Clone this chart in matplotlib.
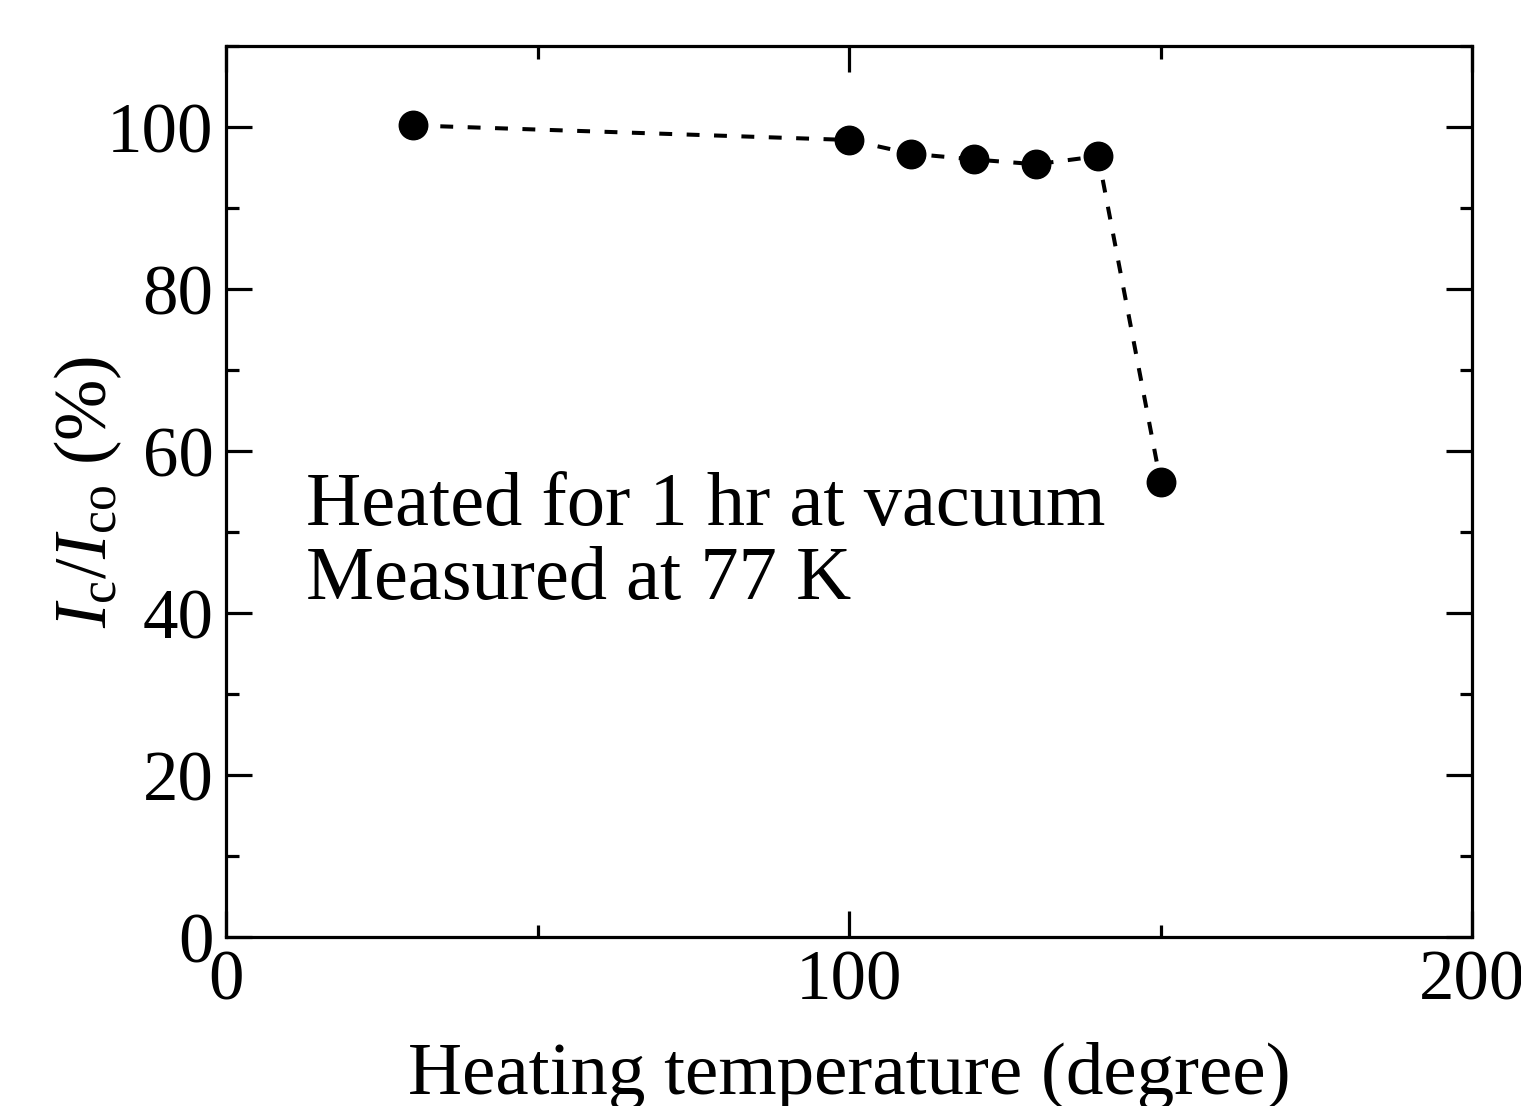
import matplotlib
matplotlib.use("Agg")
import matplotlib.pyplot as plt
from matplotlib.ticker import MultipleLocator

# Heating temperature (degree) and normalised critical current Ic/Ico (%)
temperature = [30, 100, 110, 120, 130, 140, 150]
ic_ratio = [100.2, 98.4, 96.7, 96.0, 95.4, 96.4, 56.2]

x_ticks = [0, 100, 200]
y_ticks = [0, 20, 40, 60, 80, 100]

plt.rcParams["font.family"] = ["Liberation Serif", "DejaVu Serif"]
plt.rcParams["mathtext.fontset"] = "custom"
plt.rcParams["mathtext.rm"] = "Liberation Serif"
plt.rcParams["mathtext.it"] = "Liberation Serif:italic"

fig = plt.figure(figsize=(15.21, 11.06), dpi=100)
ax = fig.add_axes([0.1486, 0.1528, 0.8192, 0.8056])

ax.plot(temperature, ic_ratio, color="black", linewidth=2.9,
        linestyle=(0, (3.2, 3.6)), marker="o", markersize=20.5,
        markerfacecolor="black", markeredgecolor="black")

ax.set_xlim(0, 200)
ax.set_ylim(0, 110)
ax.set_xticks(x_ticks)
ax.set_yticks(y_ticks)
ax.xaxis.set_minor_locator(MultipleLocator(50))
ax.yaxis.set_minor_locator(MultipleLocator(10))

for s in ax.spines.values():
    s.set_linewidth(2.3)

ax.tick_params(which="both", direction="in", top=True, right=True,
               width=2.3, labelsize=51, pad=9)
ax.tick_params(which="major", length=19)
ax.tick_params(which="minor", length=9)

ax.set_xlabel("Heating temperature (degree)", fontsize=54, labelpad=20)
ax.set_ylabel(r"$I_{\rm c}/I_{\rm co}$ (%)", fontsize=53, labelpad=-12)

ax.text(12.8, 50.9, "Heated for 1 hr at vacuum", fontsize=55, va="baseline")
ax.text(12.8, 41.7, "Measured at 77 K", fontsize=55, va="baseline")

fig.savefig("out.png", dpi=100)
